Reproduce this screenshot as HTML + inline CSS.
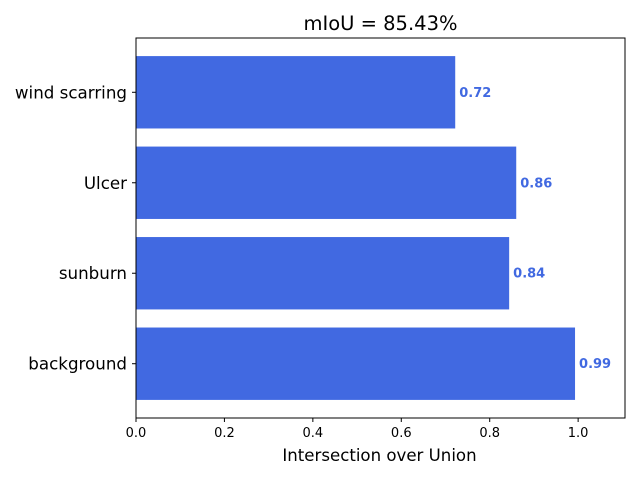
<!DOCTYPE html>
<html><head><meta charset="utf-8"><style>
body{margin:0;background:#fff;font-family:"Liberation Sans","DejaVu Sans",sans-serif;}
svg text{font-family:"DejaVu Sans","Liberation Sans",sans-serif;}
</style></head><body>
<svg id="chart" width="640" height="480"></svg>
<script>
const categories = ["background","sunburn","Ulcer","wind scarring"];
const values = [0.993, 0.844, 0.860, 0.722];
const tickValues = [0.0,0.2,0.4,0.6,0.8,1.0];
const tickLabels = ["0.0","0.2","0.4","0.6","0.8","1.0"];
const titleText = "mIoU = 85.43%";

const NS="http://www.w3.org/2000/svg";
const svg=document.getElementById('chart');
const L=136,R=625,T=38,B=418,XMAX=1.106;
const x=v=>L+v/XMAX*(R-L);
const n=categories.length, band=(B-T)/(n+0.2);
const yc=i=>B-band*(0.6+i);
function mk(tag,attrs,txt){const e=document.createElementNS(NS,tag);for(const k in attrs)e.setAttribute(k,attrs[k]);if(txt!==undefined)e.textContent=txt;svg.appendChild(e);return e;}

categories.forEach((c,i)=>{
  const h=band*0.8;
  const r=mk('rect',{x:L,y:yc(i)-h/2,width:x(values[i])-L,height:h,fill:'#4169e1'});
  
  
  const t=mk('text',{x:x(values[i])+4,y:yc(i)+4.5,'font-size':13,'font-weight':'bold',fill:'#4169e1'},values[i].toFixed(2));
  
  
  const tk=mk('line',{x1:L-4,x2:L,y1:yc(i),y2:yc(i),stroke:'#000'});
  
  
  const yl=mk('text',{x:L-9,y:yc(i)+6,'font-size':16.7,'text-anchor':'end',fill:'#000'},c);
  
  
});
tickValues.forEach((v,i)=>{
  const tk=mk('line',{x1:x(v),x2:x(v),y1:B,y2:B+4,stroke:'#000'});
  
  
  const tl=mk('text',{x:x(v),y:B+19,'font-size':13,'text-anchor':'middle',fill:'#000'},tickLabels[i]);
  
  
});
const fr=mk('rect',{x:L,y:T,width:R-L,height:B-T,fill:'none',stroke:'#000','stroke-width':1});


const xt=mk('text',{x:(L+R)/2-1,y:461,'font-size':16.6,'text-anchor':'middle'},'Intersection over Union');


const tt=mk('text',{x:(L+R)/2,y:30,'font-size':19.5,'text-anchor':'middle'},titleText);


</script>
</body></html>
